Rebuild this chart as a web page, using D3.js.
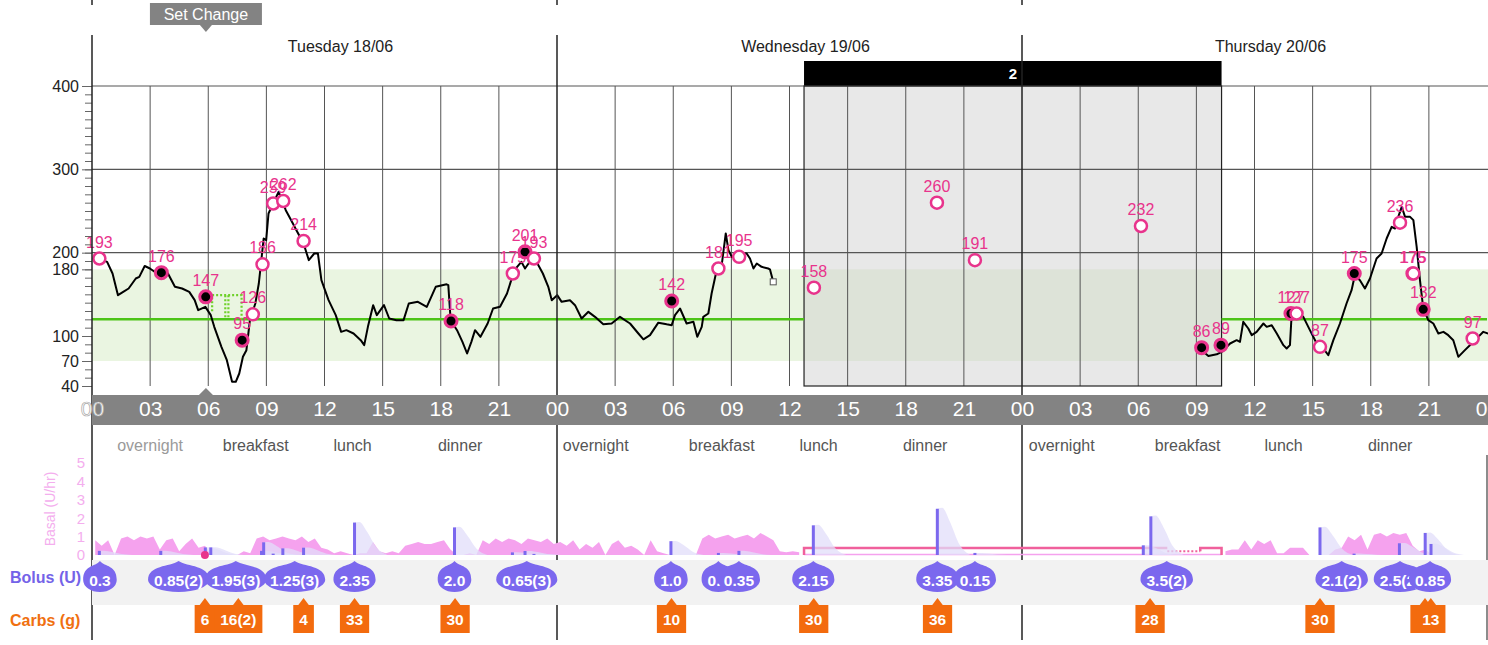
<!DOCTYPE html>
<html>
<head>
<meta charset="utf-8">
<script src="https://cdn.jsdelivr.net/npm/d3@7"></script>
<style>
	body { margin: 0; background: #fff; }
	svg { display: block; font-family: 'Liberation Sans', Arial, sans-serif; }
</style>
</head>
<body>
<div id="chart"></div>
<script>
const days = ['Tuesday 18/06', 'Wednesday 19/06', 'Thursday 20/06'];
const hourTicks = d3.range(0, 73, 3);
const glucoseTicks = [40, 70, 100, 180, 200, 300, 400];
const gridLevels = [200, 300, 400];
const targetRange = [70, 180];
const targetLevel = 120;
const tempTarget = { start: 6.2, end: 7.72, level: 149 };
const setChangeHour = 5.88;
const gapPeriod = [36.75, 58.3];
const gapLabel = '2';

const mealNames = ['overnight', 'breakfast', 'lunch', 'dinner'];
const mealHours = [[3.0, 8.45, 13.45, 19.0], [2.0, 8.5, 13.5, 19.0], [2.05, 8.55, 13.5, 19.0]];

// hours counted from Tuesday 00:00, mg/dL; null = sensor gap
const cgm = [
	[0.41,192],[0.78,189],[1.06,175],[1.34,149],[1.61,153],[1.89,157],[2.26,169],[2.44,171],[2.72,184],[2.99,181],
	[3.36,175],[3.58,174],[3.92,175],[4.28,159],[4.65,157],[5.02,153],[5.30,143],[5.48,131],[5.85,135],[6.13,125],
	[6.31,111],[6.68,87],[6.96,71],[7.23,45],[7.42,45],[7.60,55],[7.79,75],[7.97,83],[8.15,119],[8.43,139],
	[8.61,163],[8.86,217],[8.99,215],[9.11,247],[9.35,259],[9.63,273],[9.81,263],[10.00,251],[10.28,239],[10.55,227],
	[10.92,211],[11.19,191],[11.47,199],[11.66,199],[11.84,167],[12.21,143],[12.58,125],[12.86,105],[13.13,107],[13.50,103],
	[13.87,95],[14.05,89],[14.24,111],[14.51,137],[14.70,125],[15.07,137],[15.34,121],[15.71,119],[16.08,119],[16.35,139],
	[16.82,141],[17.28,135],[17.74,159],[18.30,162],[18.39,161],[18.51,119],[18.84,107],[19.12,93],[19.36,79],[19.58,93],
	[19.77,107],[20.05,99],[20.42,115],[20.70,133],[21.06,135],[21.42,151],[21.80,179],[22.16,189],[22.35,181],[22.53,187],
	[22.90,191],[23.27,175],[23.55,159],[23.73,143],[24.01,149],
	[24.24,141],[24.67,143],[24.93,137],[25.27,121],[25.62,129],[25.96,123],[26.39,114],[26.82,115],[27.25,123],[27.77,115],
	[28.20,103],[28.46,96],[28.80,101],[29.23,116],[29.66,114],[29.92,113],[30.09,125],[30.35,133],[30.69,115],[31.04,117],
	[31.24,99],[31.47,111],[31.55,123],[31.81,127],[31.98,151],[32.24,179],[32.50,185],[32.71,223],[32.85,203],[33.02,195],
	[33.36,199],[33.79,199],[33.96,193],[34.14,181],[34.31,187],[34.56,183],[34.90,181],[34.99,180],[35.16,165],
	[46.0,null],
	[57.27,83],[57.62,76],[58.05,78],[58.31,81],[58.74,91],[59.08,95],[59.25,93],[59.42,117],[59.68,109],[59.86,101],
	[60.11,105],[60.46,115],[60.63,111],[60.89,113],[61.15,103],[61.49,89],[61.66,85],[61.83,89],[61.92,127],[62.18,129],
	[62.52,123],[62.86,107],[63.21,91],[63.55,85],[63.81,77],[64.07,95],[64.41,115],[64.75,139],[65.01,155],[65.18,173],
	[65.44,167],[65.70,157],[65.96,169],[66.30,193],[66.56,199],[66.82,217],[67.08,231],[67.25,229],[67.42,243],[67.60,255],
	[67.77,243],[68.03,243],[68.20,239],[68.37,207],[68.54,167],[68.71,133],[68.97,119],[69.23,115],[69.49,103],[69.75,105],
	[70.00,101],[70.26,95],[70.52,75],[70.86,83],[71.21,91],[71.55,99],[71.81,105],[72.06,103]
];
const cgmEnd = [35.16, 165];

// [hour, mg/dL, used for calibration]
const fingersticks = [
	[0.38,193,0],[3.58,176,1],[5.87,147,1],[7.75,95,1],[8.30,126,0],[8.80,186,0],[9.35,259,0],[9.87,262,0],
	[10.92,214,0],[18.53,118,1],[21.72,175,0],[22.35,201,1],[22.81,193,0],
	[29.92,142,1],[32.33,181,0],[33.40,195,0],[37.26,158,0],[43.61,260,0],[45.57,191,0],
	[54.14,232,0],[57.27,86,1],[58.27,89,1],[61.88,127,1],[62.17,127,0],[63.38,87,0],[65.15,175,1],
	[67.51,236,0],[68.16,175,0],[68.20,175,0],[68.71,132,1],[71.26,97,0]
];

// basal U/hr in 20 minute bins, one array per day
const basalDay1 = [
	0.8,0.5,0.8,0, 0.9,1.0,0.8,1.0,0.9,1.0, 0.3, 0.8,0.9, 0.2, 0.6,0.9,0.4, 0.5, 0,0,0,0,0, 0.2,0.1,
	0.9,1.0,0.8,0.9,1.0,0.9,0.8,1.0,0.7,0.9, 0.4,0.3,0.1,0.2,0.1,0,0.1,0.1, 0.7, 0.2,0.1,0.2,0.1, 0.5,
	0.6,0.7,0.6,0.6,0.7,0.8, 0.3, 0,0,0.1,0, 0.8,0.6,0.9,0.7,0.9,0.8,0.6,0.9,0.8,0.7,0.9,0.6
];
const basalDay2 = [
	0.7,0.5,0.8,0.3, 0.6,0.4,0.7, 0, 0.6,0.8, 0.4,0.5,0.3, 0, 0.8, 0.2,0.1, 0,0,0,0,0,
	0.9,1.1,0.9,1.0,1.1,0.9,1.0,1.1,0.9,1.2,1.0,0.8, 0.2,0.15,0.2,0.15,
	null,null,null,null,null,null,null,null,null,null,null,null,null,null,null,null,null,
	null,null,null,null,null,null,null,null,null,null,null,null,null,null,null,null,null
];
const basalDay3 = [
	null,null,null,null,null,null,null,null,null,null,null,null,null,null,null,null,
	null,null,null,null,null,null,null,null,null,null,null,null,null,null,null,
	0.2,0.3,0.3,0.8,0.3,0.8,0.6,0.8,0.1,0.1,0.4,0.4,0.4,0,0,0,0,0.3,0.4,1.0,0.8,1.1,0.3,
	1.1,1.2,1.0,1.2,1.1,1.2,0.5,0.2,0.3,0,0,0,0,0,0,0,0,0
];
const tempBasal = [
	{ start: 36.75, end: 55.5, rate: 0.38, dotted: false },
	{ start: 55.5, end: 57.2, rate: 0.2, dotted: true },
	{ start: 57.2, end: 58.3, rate: 0.38, dotted: false }
];

// [hour, units]
const bolusBars = [
	[0.38,0.3],[3.55,0.3],[5.85,0.55],[6.13,0.55],[8.75,0.3],[8.86,0.92],[9.35,0.1],[9.85,0.48],[10.92,0.53],
	[13.55,2.35],[18.71,2.0],[21.7,0.19],[22.35,0.29],[22.81,0.08],
	[29.88,1.0],[32.33,0.15],[33.39,0.3],[37.23,2.15],[43.63,3.35],[45.57,0.15],
	[54.26,0.7],[54.65,2.8],[63.38,2.0],[65.14,0.1],[67.48,0.85],[68.81,1.6],[69.11,0.8]
];
const bolusLabels = [
	[0.41,'0.3'],[4.47,'0.85(2)'],[7.42,'1.95(3)'],[10.46,'1.25(3)'],[13.55,'2.35'],[18.71,'2.0'],[22.44,'0.65(3)'],
	[29.88,'1.0'],[32.33,'0.2'],[33.39,'0.35'],[37.23,'2.15'],[43.63,'3.35'],[45.57,'0.15'],
	[55.47,'3.5(2)'],[64.5,'2.1(2)'],[67.51,'2.5(2)'],[69.06,'0.85']
];
const carbs = [
	[5.83,'6'],[7.55,'16(2)'],[10.92,'4'],[13.55,'33'],[18.74,'30'],
	[29.91,'10'],[37.25,'30'],[43.64,'36'],
	[54.61,'28'],[63.38,'30'],[68.8,'10'],[69.1,'13']
];

const colors = {
	grid: '#555',
	band: '#eaf5e1',
	target: '#4cc417',
	point: '#e8338c',
	bar: '#838383',
	basal: '#f5a2ee',
	basalAxis: '#f4aeee',
	tempBasal: '#f0609c',
	bolus: '#7b68ee',
	iob: '#e2defa',
	carbs: '#f36b0e'
};

class DiaryChart {
	constructor(selector) {
		this.width = 1488;
		this.height = 645;
		this.x = d3.scaleLinear().domain([0, 72]).range([92, 1487]);
		this.yBg = d3.scaleLinear().domain([40, 400]).range([386, 86]);
		this.yBasal = d3.scaleLinear().domain([0, 5]).range([555, 463]);
		this.yBolus = d3.scaleLinear().domain([0, 5 / 0.75]).range([555, 463]);
		this.svg = d3.select(selector)
			.append('svg')
				.attr('width', this.width)
				.attr('height', this.height);
	}
	renderHeader() {
		const { svg, x } = this;
		// set change flag
		svg.append('rect')
			.attr('x', x(setChangeHour) - 56).attr('y', 3)
			.attr('width', 112).attr('height', 22)
			.attr('fill', colors.bar);
		svg.append('path')
			.attr('d', `M${x(setChangeHour) - 6},25 L${x(setChangeHour)},32 L${x(setChangeHour) + 6},25 Z`)
			.attr('fill', colors.bar);
		svg.append('text')
			.attr('x', x(setChangeHour)).attr('y', 19.5)
			.attr('text-anchor', 'middle')
			.attr('fill', '#fff').attr('font-size', 16)
			.text('Set Change');

		svg.selectAll('.day-label')
			.data(days)
			.enter()
				.append('text')
					.attr('class', 'day-label')
					.attr('x', (d, i) => x(i * 24 + 12) + 16)
					.attr('y', 52)
					.attr('text-anchor', 'middle')
					.attr('font-size', 16)
					.attr('fill', '#222')
					.text(d => d);

		svg.append('rect')
			.attr('x', x(gapPeriod[0])).attr('y', 61)
			.attr('width', x(gapPeriod[1]) - x(gapPeriod[0])).attr('height', 25)
			.attr('fill', '#000');
		svg.append('text')
			.attr('x', (x(gapPeriod[0]) + x(gapPeriod[1])) / 2).attr('y', 79)
			.attr('text-anchor', 'middle')
			.attr('fill', '#fff').attr('font-size', 15).attr('font-weight', 'bold')
			.text(gapLabel);
	}
	renderGlucosePanel() {
		const { svg, x, yBg } = this;
		const x0 = x(0), x1 = this.width;

		svg.append('rect')
			.attr('x', x0).attr('y', yBg(targetRange[1]))
			.attr('width', x1 - x0).attr('height', yBg(targetRange[0]) - yBg(targetRange[1]))
			.attr('fill', colors.band);

		svg.append('rect')
			.attr('x', x(gapPeriod[0])).attr('y', yBg(400))
			.attr('width', x(gapPeriod[1]) - x(gapPeriod[0])).attr('height', yBg(40) - yBg(400))
			.attr('fill', '#cfcfcf').attr('fill-opacity', 0.47);

		svg.selectAll('.h-grid')
			.data(gridLevels)
			.enter()
				.append('line')
					.attr('class', 'h-grid')
					.attr('x1', x0).attr('x2', x1)
					.attr('y1', d => yBg(d)).attr('y2', d => yBg(d))
					.attr('stroke', colors.grid).attr('stroke-width', 1.2);

		svg.selectAll('.v-grid')
			.data(hourTicks.filter(h => h % 24 !== 0))
			.enter()
				.append('line')
					.attr('class', 'v-grid')
					.attr('x1', d => x(d)).attr('x2', d => x(d))
					.attr('y1', yBg(400)).attr('y2', yBg(40))
					.attr('stroke', colors.grid).attr('stroke-width', 1);

		svg.append('rect')
			.attr('x', x(gapPeriod[0])).attr('y', yBg(400))
			.attr('width', x(gapPeriod[1]) - x(gapPeriod[0])).attr('height', yBg(40) - yBg(400))
			.attr('fill', 'none').attr('stroke', '#222').attr('stroke-width', 1.2);

		// target line stops while the sensor is out
		[[0, gapPeriod[0]], [gapPeriod[1], 72]].forEach(([a, b]) => {
			svg.append('line')
				.attr('x1', x(a)).attr('x2', x(b))
				.attr('y1', yBg(targetLevel)).attr('y2', yBg(targetLevel))
				.attr('stroke', colors.target).attr('stroke-width', 2.5);
		});
		const tt = tempTarget;
		const mid = (tt.start + tt.end) / 2;
		svg.append('path')
			.attr('d', `M${x(tt.start)},${yBg(tt.level) + 16} V${yBg(tt.level)} H${x(tt.end)} V${yBg(targetLevel)}`
				+ ` M${x(mid - 0.08)},${yBg(tt.level)} V${yBg(targetLevel)} M${x(mid + 0.08)},${yBg(tt.level)} V${yBg(targetLevel)}`)
			.attr('fill', 'none')
			.attr('stroke', '#6fd12a').attr('stroke-width', 2.2)
			.attr('stroke-dasharray', '2,2');

		const line = d3.line()
			.defined(d => d[1] != null)
			.x(d => x(d[0]))
			.y(d => yBg(d[1]));
		svg.append('path')
			.datum(cgm)
			.attr('d', line)
			.attr('fill', 'none')
			.attr('stroke', '#000').attr('stroke-width', 2)
			.attr('stroke-linejoin', 'round');
		svg.append('rect')
			.attr('x', x(cgmEnd[0]) - 3).attr('y', yBg(cgmEnd[1]) - 3)
			.attr('width', 6).attr('height', 6)
			.attr('fill', '#fff').attr('stroke', '#555');

		const pts = svg.selectAll('.fingerstick')
			.data(fingersticks)
			.enter()
				.append('g')
					.attr('class', 'fingerstick')
					.attr('transform', d => `translate(${x(d[0])},${yBg(d[1])})`);
		pts.append('circle')
			.attr('r', 6)
			.attr('fill', d => d[2] ? '#000' : '#fff')
			.attr('stroke', colors.point)
			.attr('stroke-width', d => d[2] ? 3 : 2.5);
		pts.append('text')
			.attr('y', -11)
			.attr('text-anchor', 'middle')
			.attr('font-size', 16)
			.attr('fill', colors.point)
			.text(d => d[1]);

		const minor = d3.axisLeft(yBg).tickValues(d3.range(40, 401, 10)).tickSize(7).tickFormat('');
		const major = d3.axisLeft(yBg).tickValues(glucoseTicks).tickSize(10).tickPadding(3);
		[minor, major].forEach(axis => {
			const g = svg.append('g')
				.attr('transform', `translate(${x0},0)`)
				.call(axis);
			g.select('.domain').remove();
			g.selectAll('line').attr('stroke', '#666');
			g.selectAll('text').attr('font-size', 16).attr('fill', '#222').attr('font-family', null);
		});
	}
	renderTimeBar() {
		const { svg, x } = this;
		svg.append('rect')
			.attr('x', x(0)).attr('y', 395)
			.attr('width', this.width - x(0)).attr('height', 30)
			.attr('fill', colors.bar);
		svg.append('path')
			.attr('d', `M${x(setChangeHour) - 7},395 L${x(setChangeHour)},388 L${x(setChangeHour) + 7},395 Z`)
			.attr('fill', colors.bar);

		const axis = d3.axisBottom(x)
			.tickValues(hourTicks)
			.tickFormat(h => d3.format('02')(h % 24))
			.tickSize(0)
			.tickPadding(3);
		const g = svg.append('g')
			.attr('transform', 'translate(0,398.5)')
			.call(axis);
		g.select('.domain').remove();
		g.selectAll('text')
			.attr('font-size', 21).attr('font-family', null)
			.attr('fill', '#fff');
		g.select('.tick text')
			.attr('stroke', '#aaa').attr('stroke-width', 0.7);

		mealHours.forEach((hours, d) => {
			hours.forEach((h, i) => {
				svg.append('text')
					.attr('x', x(d * 24 + h)).attr('y', 450.5)
					.attr('text-anchor', 'middle')
					.attr('font-size', 16)
					.attr('fill', d === 0 && i === 0 ? '#9a9a9a' : '#555')
					.text(mealNames[i]);
			});
		});
	}
	renderInsulinPanel() {
		const { svg, x, yBasal, yBolus } = this;

		const axis = d3.axisLeft(yBasal).ticks(5).tickSize(0).tickPadding(7);
		const g = svg.append('g')
			.attr('transform', `translate(${x(0)},0)`)
			.call(axis);
		g.select('.domain').remove();
		g.selectAll('text').attr('font-size', 15).attr('font-family', null).attr('fill', colors.basalAxis);
		svg.append('text')
			.attr('transform', 'translate(55,509) rotate(-90)')
			.attr('text-anchor', 'middle')
			.attr('font-size', 14)
			.attr('fill', colors.basalAxis)
			.text('Basal (U/hr)');

		const basal = [basalDay1, basalDay2, basalDay3]
			.flatMap((rates, d) => rates.map((r, i) => ({ h: d * 24 + (i + 0.5) / 3, r })));
		const area = d3.area()
			.defined(d => d.r != null)
			.x(d => x(d.h))
			.y0(yBasal(0))
			.y1(d => yBasal(d.r));
		svg.append('path')
			.datum(basal)
			.attr('d', area)
			.attr('fill', colors.basal);

		svg.append('line')
			.attr('x1', x(tempBasal[0].start)).attr('x2', x(tempBasal[tempBasal.length - 1].end))
			.attr('y1', yBasal(0) - 0.5).attr('y2', yBasal(0) - 0.5)
			.attr('stroke', colors.basal).attr('stroke-width', 1.5);
		tempBasal.forEach((seg, i) => {
			const prev = i === 0 ? 0 : tempBasal[i - 1].rate;
			let d = seg.dotted
				? `M${x(seg.start)},${yBasal(seg.rate)} H${x(seg.end)}`
				: `M${x(seg.start)},${yBasal(prev)} V${yBasal(seg.rate)} H${x(seg.end)}`;
			if (i === tempBasal.length - 1) d += ` V${yBasal(0)}`;
			svg.append('path')
				.attr('d', d)
				.attr('fill', 'none')
				.attr('stroke', colors.tempBasal)
				.attr('stroke-width', seg.dotted ? 2 : 2.5)
				.attr('stroke-dasharray', seg.dotted ? '2,2' : null);
		});

		// insulin on board wedge after each bolus
		const iob = d3.area()
			.curve(d3.curveMonotoneX)
			.x(d => x(d[0]))
			.y0(yBolus(0))
			.y1(d => yBolus(d[1]));
		svg.selectAll('.iob')
			.data(bolusBars)
			.enter()
				.append('path')
					.attr('class', 'iob')
					.attr('d', ([h, u]) => iob([[h, u], [h + 0.25, u * 1.02], [h + 0.65, u * 0.72], [h + 1.15, u * 0.22], [h + 1.7, 0]]))
					.attr('fill', colors.iob)
					.attr('fill-opacity', 0.75);

		svg.selectAll('.bolus-bar')
			.data(bolusBars)
			.enter()
				.append('rect')
					.attr('class', 'bolus-bar')
					.attr('x', d => x(d[0]) - 1.5)
					.attr('y', d => yBolus(d[1]))
					.attr('width', 3)
					.attr('height', d => yBolus(0) - yBolus(d[1]))
					.attr('fill', colors.bolus);

		svg.append('circle')
			.attr('cx', x(setChangeHour) - 1).attr('cy', yBasal(0))
			.attr('r', 4)
			.attr('fill', colors.point);
	}
	renderBolusRow() {
		const { svg, x } = this;
		svg.append('rect')
			.attr('x', x(0)).attr('y', 560)
			.attr('width', this.width - x(0)).attr('height', 45)
			.attr('fill', '#f2f2f2');

		bolusLabels.forEach(([h, label]) => {
			const cx = x(h);
			const drop = svg.append('g').attr('class', 'bolus-drop');
			const path = drop.append('path').attr('fill', colors.bolus);
			const text = drop.append('text')
				.attr('x', cx).attr('y', 585.5)
				.attr('text-anchor', 'middle')
				.attr('font-size', 15.5).attr('font-weight', 'bold')
				.attr('fill', '#fff')
				.text(label);
			const rx = text.node().getComputedTextLength() / 2 + 6;
			path.attr('d', `M${cx},561 C${cx + rx * 0.3},567 ${cx + rx},565 ${cx + rx},580`
				+ ` A${rx},12 0 0 1 ${cx - rx},580 C${cx - rx},565 ${cx - rx * 0.3},567 ${cx},561 Z`);
		});

		carbs.forEach(([h, label]) => {
			const cx = x(h);
			const box = svg.append('g').attr('class', 'carb-box');
			const rect = box.append('rect')
				.attr('y', 605).attr('height', 28)
				.attr('fill', colors.carbs);
			box.append('path')
				.attr('d', `M${cx - 6},606 L${cx},598 L${cx + 6},606 Z`)
				.attr('fill', colors.carbs);
			const text = box.append('text')
				.attr('x', cx).attr('y', 625)
				.attr('text-anchor', 'middle')
				.attr('font-size', 15.5).attr('font-weight', 'bold')
				.attr('fill', '#fff')
				.text(label);
			const w = text.node().getComputedTextLength() + 12;
			rect.attr('x', cx - w / 2).attr('width', w);
		});

		svg.append('text')
			.attr('x', 10).attr('y', 583)
			.attr('font-size', 16).attr('font-weight', 'bold')
			.attr('fill', '#7463e8')
			.text('Bolus (U)');
		svg.append('text')
			.attr('x', 10).attr('y', 626)
			.attr('font-size', 16).attr('font-weight', 'bold')
			.attr('fill', '#f07010')
			.text('Carbs (g)');
	}
	renderDayLines() {
		const { svg, x } = this;
		const bounds = [0, 24, 48];
		svg.selectAll('.day-top')
			.data(bounds)
			.enter()
				.append('line')
					.attr('class', 'day-top')
					.attr('x1', d => x(d)).attr('x2', d => x(d))
					.attr('y1', 0).attr('y2', 5)
					.attr('stroke', '#222').attr('stroke-width', 1.5);
		svg.selectAll('.day-line')
			.data(bounds)
			.enter()
				.append('line')
					.attr('class', 'day-line')
					.attr('x1', d => x(d)).attr('x2', d => x(d))
					.attr('y1', 35).attr('y2', 640)
					.attr('stroke', '#222').attr('stroke-width', 1.5);
		svg.append('line')
			.attr('x1', x(72)).attr('x2', x(72))
			.attr('y1', 455).attr('y2', 640)
			.attr('stroke', '#666').attr('stroke-width', 1.5);
	}
	render() {
		this.renderHeader();
		this.renderGlucosePanel();
		this.renderDayLines();
		this.renderTimeBar();
		this.renderInsulinPanel();
		this.renderBolusRow();
	}
}

new DiaryChart('#chart').render();
</script>
</body>
</html>
